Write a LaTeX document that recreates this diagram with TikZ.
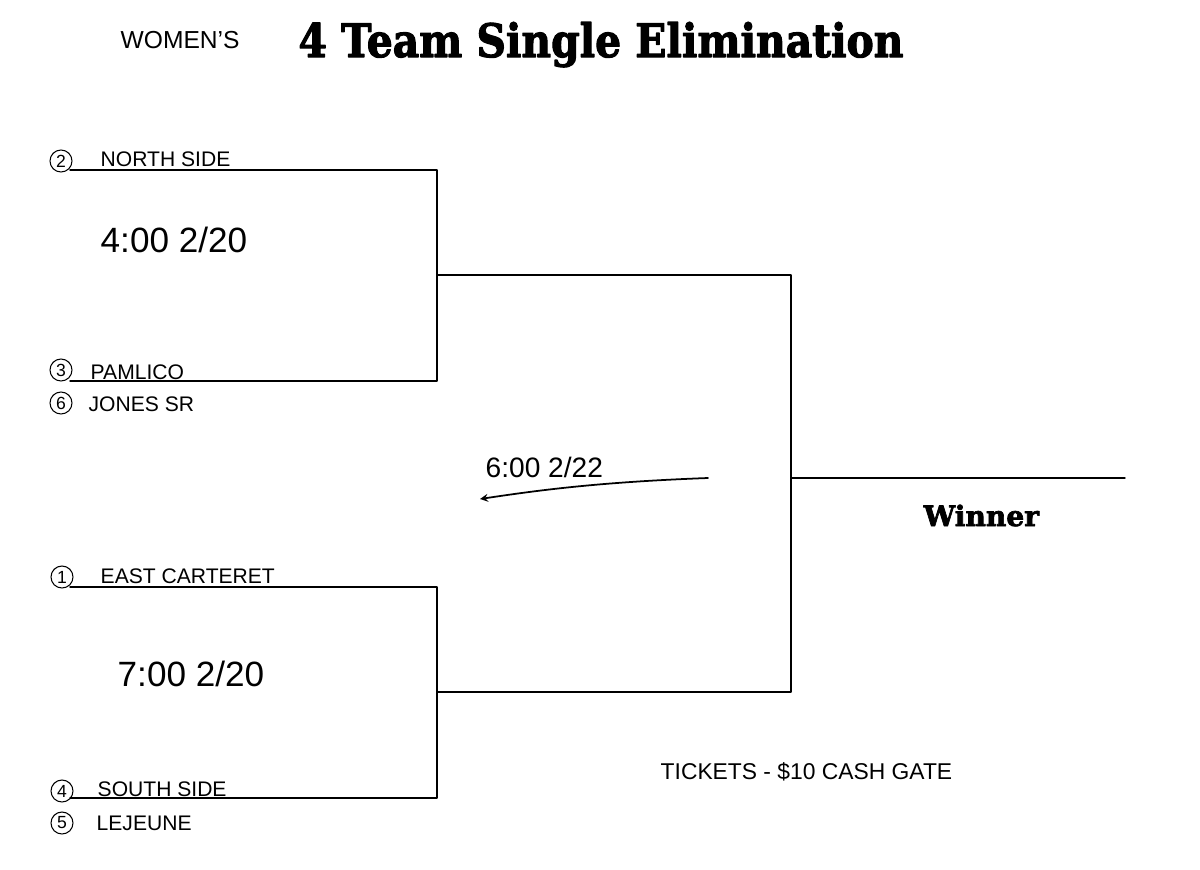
\documentclass[tikz,border=0pt]{standalone}
\usepackage{fontspec}
\usepackage{graphicx}
\setmainfont{Liberation Sans}
\newfontfamily\slabfont{DejaVu Serif}[BoldFeatures={FakeBold=2.5}]
\begin{document}
\begin{tikzpicture}[x=0.02cm,y=-0.02cm,line join=round,line cap=round,line width=0.8pt,>=stealth,
	hand/.style={anchor=base west,inner sep=0pt,font=\fontsize{12}{14}\selectfont},
	seed/.style={draw,circle,line width=0.6pt,inner sep=0pt,minimum size=0.44cm,font=\fontsize{10}{11}\selectfont}]
	\useasboundingbox (0,0) rectangle (1200,869);
	\node[anchor=base,inner sep=0pt,font=\slabfont\bfseries] (title) at (601,57) {\resizebox{12.1cm}{0.7cm}{4 Team Single Elimination}};
	\node[hand,font=\fontsize{14}{16}\selectfont] (womens) at (120,48) {WOMEN'S};
	\coordinate (A1) at (70,170);
	\coordinate (A2) at (437,170);
	\coordinate (B1) at (70,381);
	\coordinate (B2) at (437,381);
	\coordinate (AB) at (437,275);
	\coordinate (S1) at (791,275);
	\coordinate (C1) at (70,587);
	\coordinate (C2) at (437,587);
	\coordinate (D1) at (70,798);
	\coordinate (D2) at (437,798);
	\coordinate (CD) at (437,692);
	\coordinate (S2) at (791,692);
	\coordinate (F) at (791,478);
	\coordinate (W) at (1125,478);
	\draw (A1) -- (A2) -- (B2) -- (B1);
	\draw (C1) -- (C2) -- (D2) -- (D1);
	\draw (AB) -- (S1) -- (S2) -- (CD);
	\draw (F) -- (W);
	\node[seed] (s2) at (61,161) {2};
	\node[hand] (north) at (100,166) {NORTH SIDE};
	\node[seed] (s3) at (61,370) {3};
	\node[hand] (pamlico) at (90,379) {PAMLICO};
	\node[seed] (s6) at (61,403) {6};
	\node[hand] (jones) at (88,411) {JONES SR};
	\node[seed] (s1) at (62,577) {1};
	\node[hand] (east) at (100,583) {EAST CARTERET};
	\node[seed] (s4) at (62,791) {4};
	\node[hand] (south) at (97,796) {SOUTH SIDE};
	\node[seed] (s5) at (62,823) {5};
	\node[hand] (lejeune) at (96,830) {LEJEUNE};
	\node[hand,font=\fontsize{20}{22}\selectfont] (game1) at (100,252) {4:00 2/20};
	\node[hand,font=\fontsize{20}{22}\selectfont] (game2) at (117,686) {7:00 2/20};
	\node[hand,font=\fontsize{16}{18}\selectfont] (final) at (485,477) {6:00 2/22};
	\coordinate (U1) at (708,478);
	\coordinate (U2) at (480,499);
	\draw[->,line width=1pt] (U1) .. controls (600,482) and (540,490) .. (U2);
	\node[anchor=base west,inner sep=0pt,font=\slabfont\bfseries\fontsize{16}{18}\selectfont] (winner) at (923,526) {Winner};
	\node[hand,font=\fontsize{13}{15}\selectfont] (tickets) at (660,779) {TICKETS - \$10 CASH GATE};
\end{tikzpicture}
\end{document}
